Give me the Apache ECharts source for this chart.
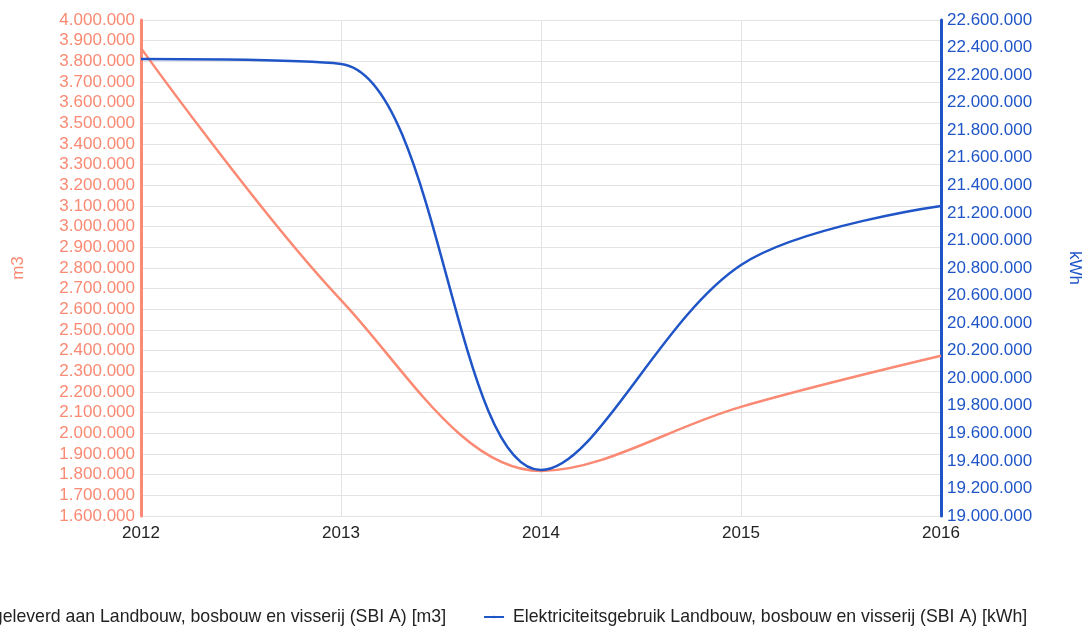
<!DOCTYPE html>
<html>
<head>
<meta charset="utf-8">
<script src="https://cdn.jsdelivr.net/npm/echarts@6/dist/echarts.min.js"></script>
<style>
  html, body { margin: 0; padding: 0; background: #fff; }
  #chart { width: 1087px; height: 627px; }
</style>
</head>
<body>
<div id="chart"></div>
<script>
// jaren en verbruikswaarden
const years = ['2012', '2013', '2014', '2015', '2016']
const gasM3 = [3864000, 2645000, 1818000, 2128000, 2375000]
const elecKwh = [22317000, 22281000, 19334000, 20822000, 21250000]

const gasName = 'Aardgas geleverd aan Landbouw, bosbouw en visserij (SBI A) [m3]'
const elecName = 'Elektriciteitsgebruik Landbouw, bosbouw en visserij (SBI A) [kWh]'

const salmon = '#fa8a73'
const blue = '#1f55c6'

function dotted(v) {
  return String(Math.round(v)).replace(/\B(?=(\d{3})+(?!\d))/g, '.')
}

const chart = echarts.init(document.getElementById('chart'))

chart.setOption({
  animation: false,
  textStyle: { fontFamily: 'Liberation Sans, Arial, sans-serif' },
  grid: { left: 141, right: 146, top: 20, bottom: 111, outerBoundsMode: 'none', containLabel: false },
  legend: {
    left: -113,
    bottom: -4,
    itemWidth: 20,
    itemHeight: 3,
    itemGap: 37,
    textStyle: { fontSize: 17.7, color: '#222', padding: [0, 0, 0, 4] },
    data: [gasName, elecName]
  },
  xAxis: {
    type: 'category',
    boundaryGap: false,
    data: years,
    axisLine: { show: false },
    axisTick: { show: false },
    axisLabel: { color: '#222', fontSize: 17, margin: 9 },
    splitLine: { show: true, lineStyle: { color: '#e3e3e3', width: 1 } }
  },
  yAxis: [
    {
      type: 'value',
      min: 1600000,
      max: 4000000,
      interval: 100000,
      name: 'm3',
      nameLocation: 'middle',
      nameRotate: 90,
      nameGap: 114,
      nameTextStyle: { color: salmon, fontSize: 17 },
      axisLine: { show: true, lineStyle: { color: salmon, width: 3 } },
      axisTick: { show: false },
      axisLabel: { color: salmon, fontSize: 17, margin: 6, formatter: dotted },
      splitLine: { lineStyle: { color: '#e3e3e3', width: 1 } }
    },
    {
      type: 'value',
      min: 19000000,
      max: 22600000,
      interval: 200000,
      name: 'kWh',
      nameLocation: 'middle',
      nameRotate: -90,
      nameGap: 125,
      nameTextStyle: { color: blue, fontSize: 17 },
      axisLine: { show: true, lineStyle: { color: blue, width: 3 } },
      axisTick: { show: false },
      axisLabel: { color: blue, fontSize: 17, margin: 6, formatter: dotted },
      splitLine: { show: false }
    }
  ],
  series: [
    {
      name: gasName,
      type: 'line',
      yAxisIndex: 0,
      data: gasM3,
      smooth: 0.35,
      symbol: 'none',
      lineStyle: { color: salmon, width: 2.5 },
      itemStyle: { color: salmon }
    },
    {
      name: elecName,
      type: 'line',
      yAxisIndex: 1,
      data: elecKwh,
      smooth: 0.35,
      symbol: 'none',
      lineStyle: { color: blue, width: 2.5 },
      itemStyle: { color: blue }
    }
  ]
})
</script>
</body>
</html>
